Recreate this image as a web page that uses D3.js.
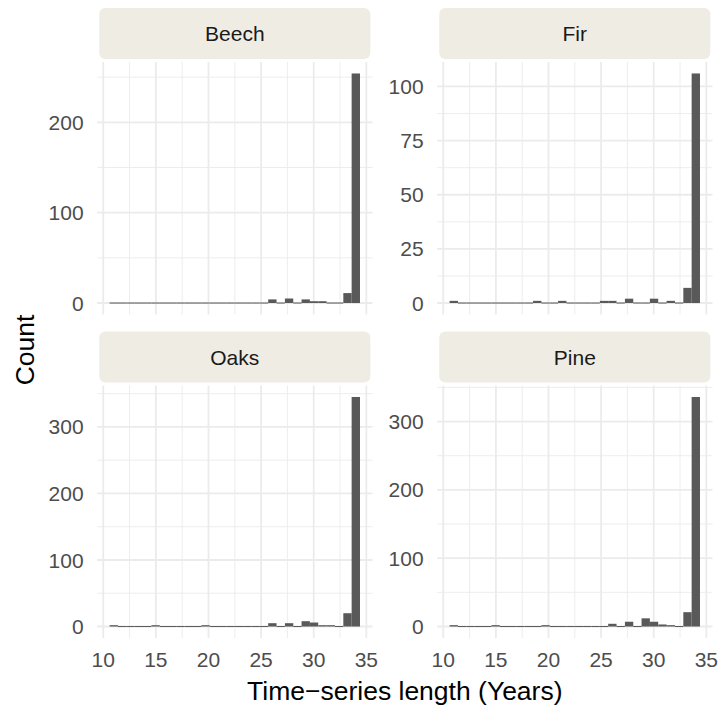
<!DOCTYPE html>
<html>
<head>
<meta charset="utf-8">
<script src="https://cdn.jsdelivr.net/npm/d3@7/dist/d3.min.js"></script>
<style>
  html, body { margin: 0; padding: 0; background: #fff; }
  svg { display: block; font-family: "Liberation Sans", Arial, Helvetica, sans-serif; }
</style>
</head>
<body>
<svg id="chart" width="719" height="705"></svg>
<script>
// ---- data ----
const binCenters = [11.00, 11.79, 12.59, 13.38, 14.17, 14.97, 15.76, 16.55, 17.34, 18.14,
                    18.93, 19.72, 20.52, 21.31, 22.10, 22.90, 23.69, 24.48, 25.28, 26.07,
                    26.86, 27.66, 28.45, 29.24, 30.03, 30.83, 31.62, 32.41, 33.21, 34.00];
const binWidth = 0.793;
const species = ["Beech", "Fir", "Oaks", "Pine"];
const beechCounts = [0,0,0,0,0,0,0,0,0,0, 0,0,0,0,0,0,0,0,0,4, 0,5,0,4,2,2,0,0,11,254];
const firCounts   = [1,0,0,0,0,0,0,0,0,0, 1,0,0,1,0,0,0,0,1,1, 0,2,0,0,2,0,1,0,7,106];
const oaksCounts  = [2,0,0,0,0,2,0,0,0,0, 0,2,0,0,0,0,0,0,0,5, 0,5,0,8,6,2,2,0,20,345];
const pineCounts  = [2,0,0,0,0,2,0,0,0,0, 0,2,0,0,0,0,0,0,0,4, 0,7,0,12,7,3,2,0,21,336];
const xTicks = [10, 15, 20, 25, 30, 35];
const xMinor = [12.5, 17.5, 22.5, 27.5, 32.5];
const beechTicks = [0, 100, 200];
const firTicks = [0, 25, 50, 75, 100];
const oaksTicks = [0, 100, 200, 300];
const pineTicks = [0, 100, 200, 300];
const xTitle = "Time\u2212series length (Years)";
const yTitle = "Count";

const panelsData = [
  {name: species[0], counts: beechCounts, ticks: beechTicks, col: 0, row: 0},
  {name: species[1], counts: firCounts,   ticks: firTicks,   col: 1, row: 0},
  {name: species[2], counts: oaksCounts,  ticks: oaksTicks,  col: 0, row: 1},
  {name: species[3], counts: pineCounts,  ticks: pineTicks,  col: 1, row: 1}
];

// ---- layout ----
const colX = [97.1, 437.1];
const panelW = 275.4;
const rowY = [62, 385.5];
const panelH = 252.5;
const stripH = 51;
const stripGap = 3;
const tickFont = 21;
const titleFont = 26.5;

const svg = d3.select("#chart");
const gridCol = "#EBEBEB";

// x domain: bins span plus 5% expansion
const xlo = binCenters[0] - binWidth / 2, xhi = binCenters[binCenters.length - 1] + binWidth / 2;
const xpad = (xhi - xlo) * 0.05;

panelsData.forEach(p => {
  const x0 = colX[p.col], y0 = rowY[p.row];
  const g = svg.append("g").attr("transform", `translate(${x0},${y0})`);
  const x = d3.scaleLinear().domain([xlo - xpad, xhi + xpad]).range([0, panelW]);
  const ymax = d3.max(p.counts);
  const y = d3.scaleLinear().domain([-0.05 * ymax, 1.05 * ymax]).range([panelH, 0]);

  // minor y grid
  const step = p.ticks[1] - p.ticks[0];
  const yMinor = [];
  for (let v = p.ticks[0] + step / 2; v <= y.domain()[1]; v += step) yMinor.push(v);
  g.selectAll(".ymin").data(yMinor).enter().append("line")
    .attr("x1", 0).attr("x2", panelW).attr("y1", d => y(d)).attr("y2", d => y(d))
    .attr("stroke", gridCol).attr("stroke-width", 0.9);
  g.selectAll(".xmin").data(xMinor).enter().append("line")
    .attr("y1", 0).attr("y2", panelH).attr("x1", d => x(d)).attr("x2", d => x(d))
    .attr("stroke", gridCol).attr("stroke-width", 0.9);
  // major grid
  g.selectAll(".ymaj").data(p.ticks).enter().append("line")
    .attr("x1", 0).attr("x2", panelW).attr("y1", d => y(d)).attr("y2", d => y(d))
    .attr("stroke", gridCol).attr("stroke-width", 1.8);
  g.selectAll(".xmaj").data(xTicks).enter().append("line")
    .attr("y1", 0).attr("y2", panelH).attr("x1", d => x(d)).attr("x2", d => x(d))
    .attr("stroke", gridCol).attr("stroke-width", 1.8);

  // bars
  const bars = binCenters.map((c, i) => ({c, n: p.counts[i]}));
  g.selectAll(".bar").data(bars).enter().append("rect")
    .attr("x", d => x(d.c - binWidth / 2))
    .attr("width", d => x(d.c + binWidth / 2) - x(d.c - binWidth / 2))
    .attr("y", d => d.n > 0 ? y(d.n) : y(0) - 0.5)
    .attr("height", d => d.n > 0 ? y(0) - y(d.n) : 1)
    .attr("fill", "#595959");

  // y tick labels
  g.selectAll(".ylab").data(p.ticks).enter().append("text")
    .attr("x", -13.5).attr("y", d => y(d)).attr("dy", "0.36em")
    .attr("text-anchor", "end").attr("font-size", tickFont).attr("fill", "#4D4D4D")
    .text(d => d);

  // x tick labels on bottom row
  if (p.row === 1) {
    g.selectAll(".xlab").data(xTicks).enter().append("text")
      .attr("x", d => x(d)).attr("y", panelH + 21).attr("dy", "0.36em")
      .attr("text-anchor", "middle").attr("font-size", tickFont).attr("fill", "#4D4D4D")
      .text(d => d);
  }

  // strip
  svg.append("rect")
    .attr("x", x0 + 2.2).attr("y", y0 - stripGap - stripH)
    .attr("width", panelW - 4.4).attr("height", stripH)
    .attr("rx", 6).attr("ry", 6)
    .attr("fill", "#EFECE4");
  svg.append("text")
    .attr("x", x0 + panelW / 2).attr("y", y0 - stripGap - stripH / 2).attr("dy", "0.36em")
    .attr("text-anchor", "middle").attr("font-size", tickFont).attr("fill", "#1A1A1A")
    .text(p.name);
});

// axis titles
svg.append("text")
  .attr("x", (colX[0] + colX[1] + panelW) / 2).attr("y", 690).attr("dy", "0.36em")
  .attr("text-anchor", "middle").attr("font-size", titleFont).attr("fill", "#000")
  .text(xTitle);
svg.append("text")
  .attr("transform", `translate(24,${(rowY[0] + rowY[1] + panelH) / 2}) rotate(-90)`)
  .attr("dy", "0.36em")
  .attr("text-anchor", "middle").attr("font-size", titleFont).attr("fill", "#000")
  .text(yTitle);
</script>
</body>
</html>
